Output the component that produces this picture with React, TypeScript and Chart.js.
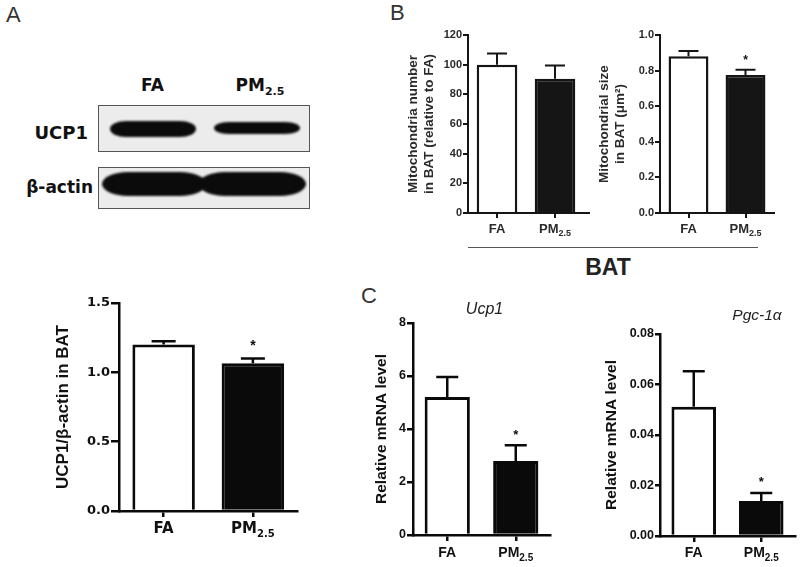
import React, { useEffect, useRef } from "react";
import { Chart, registerables } from "chart.js";

Chart.register(...registerables);

// ---------- data ----------
const groups = ["FA", "PM"];
const groupSubs = ["", "2.5"];

// A: UCP1 / beta-actin (western blot quantification)
const ucp1ProteinMean = [1.2, 1.065];
const ucp1ProteinSem = [0.025, 0.035];
const ucp1ProteinSig = [false, true];
const ucp1ProteinTicks = [0, 0.5, 1.0, 1.5];

// B: mitochondria number and size
const mitoNumberMean = [100, 90.5];
const mitoNumberSem = [7.5, 9];
const mitoNumberSig = [false, false];
const mitoNumberTicks = [0, 20, 40, 60, 80, 100, 120];

const mitoSizeMean = [0.88, 0.775];
const mitoSizeSem = [0.03, 0.03];
const mitoSizeSig = [false, true];
const mitoSizeTicks = [0, 0.2, 0.4, 0.6, 0.8, 1.0];

// C: relative mRNA
const ucp1MrnaMean = [5.21, 2.79];
const ucp1MrnaSem = [0.75, 0.6];
const ucp1MrnaSig = [false, true];
const ucp1MrnaTicks = [0, 2, 4, 6, 8];

const pgcMrnaMean = [0.0512, 0.0139];
const pgcMrnaSem = [0.014, 0.0031];
const pgcMrnaSig = [false, true];
const pgcMrnaTicks = [0, 0.02, 0.04, 0.06, 0.08];

const LIB = "'Liberation Sans', Arial, Helvetica, sans-serif";
const DEJ = "'DejaVu Sans', Verdana, sans-serif";

type Spec = {
  box: { left: number; top: number; width: number; height: number };
  area: { left: number; right: number; top: number; bottom: number };
  mean: number[];
  sem: number[];
  sig: boolean[];
  ticks: number[];
  dec: number;
  yTitle: string | string[];
  titleFamily: string;
  titleSize: number;
  titleLH: number;
  titleCenter: number;
  titleColor: string;
  tickFamily: string;
  tickSize: number;
  tickColor: string;
  tickLen: number;
  tickPad: number;
  axisW: number;
  barBorder: number;
  barPct: number;
  capW: number;
  errW: number;
  xFamily: string;
  xSize: number;
  xSubSize: number;
  xBaseline: number;
  subDrop: number;
  xTickLen: number;
  starSize: number;
  starGap: number;
  axisExtend: number;
  ink: string;
  textInk: string;
};

const base = {
  titleColor: "#111",
  tickColor: "#111",
  ink: "#0a0a0a",
  textInk: "#111",
  axisExtend: 0,
};

const specA: Spec = {
  ...base,
  box: { left: 40, top: 290, width: 270, height: 260 },
  area: { left: 119, right: 297.5, top: 303, bottom: 511 },
  mean: ucp1ProteinMean,
  sem: ucp1ProteinSem,
  sig: ucp1ProteinSig,
  ticks: ucp1ProteinTicks,
  dec: 1,
  yTitle: "UCP1/\u03b2-actin in BAT",
  titleFamily: LIB,
  titleSize: 17,
  titleLH: 20,
  titleCenter: 63,
  tickFamily: DEJ,
  tickSize: 13,
  tickLen: 8,
  tickPad: 1,
  axisW: 2.5,
  barBorder: 3,
  barPct: 0.7,
  capW: 24,
  errW: 2.5,
  xFamily: DEJ,
  xSize: 15,
  xSubSize: 10,
  xBaseline: 533,
  subDrop: 4,
  xTickLen: 6,
  starSize: 14,
  starGap: 8,
};

const specB1: Spec = {
  ...base,
  titleColor: "#2a2a2a",
  tickColor: "#2a2a2a",
  textInk: "#2a2a2a",
  ink: "#151515",
  box: { left: 400, top: 20, width: 190, height: 220 },
  area: { left: 468, right: 584, top: 35, bottom: 213 },
  mean: mitoNumberMean,
  sem: mitoNumberSem,
  sig: mitoNumberSig,
  ticks: mitoNumberTicks,
  dec: 0,
  yTitle: ["Mitochondria number", "in BAT (relative to FA)"],
  titleFamily: LIB,
  titleSize: 13.5,
  titleLH: 16,
  titleCenter: 413,
  tickFamily: LIB,
  tickSize: 11,
  tickLen: 5,
  tickPad: 1,
  axisW: 2,
  barBorder: 2.5,
  barPct: 0.7,
  capW: 20,
  errW: 2,
  xFamily: LIB,
  xSize: 13,
  xSubSize: 9,
  xBaseline: 233,
  subDrop: 3,
  xTickLen: 5,
  starSize: 12,
  starGap: 6,
  axisExtend: 9,
};

const specB2: Spec = {
  ...specB1,
  box: { left: 590, top: 20, width: 200, height: 220 },
  area: { left: 660, right: 774, top: 35, bottom: 213 },
  mean: mitoSizeMean,
  sem: mitoSizeSem,
  sig: mitoSizeSig,
  ticks: mitoSizeTicks,
  dec: 1,
  yTitle: ["Mitochondrial size", "in BAT (\u03bcm\u00b2)"],
  titleCenter: 604,
  axisExtend: 0,
};

const specC1: Spec = {
  ...base,
  box: { left: 360, top: 300, width: 200, height: 267 },
  area: { left: 413, right: 550, top: 323, bottom: 535 },
  mean: ucp1MrnaMean,
  sem: ucp1MrnaSem,
  sig: ucp1MrnaSig,
  ticks: ucp1MrnaTicks,
  dec: 0,
  yTitle: "Relative mRNA level",
  titleFamily: LIB,
  titleSize: 15.5,
  titleLH: 18,
  titleCenter: 381.5,
  tickFamily: LIB,
  tickSize: 12.5,
  tickLen: 6,
  tickPad: 1,
  axisW: 2.5,
  barBorder: 3,
  barPct: 0.66,
  capW: 22,
  errW: 2.5,
  xFamily: LIB,
  xSize: 14,
  xSubSize: 10,
  xBaseline: 557,
  subDrop: 4,
  xTickLen: 6,
  starSize: 13,
  starGap: 6,
};

const specC2: Spec = {
  ...specC1,
  box: { left: 580, top: 300, width: 220, height: 267 },
  area: { left: 660, right: 795, top: 334, bottom: 536 },
  mean: pgcMrnaMean,
  sem: pgcMrnaSem,
  sig: pgcMrnaSig,
  ticks: pgcMrnaTicks,
  dec: 2,
  titleCenter: 612,
  tickLen: 5,
  starGap: 7,
};

function BarPanel({ spec }: { spec: Spec }) {
  const ref = useRef<HTMLCanvasElement | null>(null);
  useEffect(() => {
    const s = spec;
    const canvas = ref.current!;
    const yWidth = s.area.left - s.box.left;
    const xHeight = s.box.top + s.box.height - s.area.bottom;
    const padTop = s.area.top - s.box.top;
    const padRight = s.box.left + s.box.width - s.area.right;
    const titlePadTop = s.titleCenter - s.box.left - s.titleLH / 2;

    const overlay = {
      id: "overlay",
      afterDatasetsDraw(chart: any) {
        const ctx = chart.ctx as CanvasRenderingContext2D;
        const xs = chart.scales.x;
        const ys = chart.scales.y;
        const meta = chart.getDatasetMeta(0);
        ctx.save();
        ctx.strokeStyle = s.ink;
        ctx.fillStyle = s.ink;
        ctx.lineWidth = s.errW;
        ctx.lineCap = "butt";
        s.mean.forEach((m, i) => {
          const cx = meta.data[i].x;
          const yBar = ys.getPixelForValue(m);
          const yTop = ys.getPixelForValue(m + s.sem[i]);
          ctx.beginPath();
          ctx.moveTo(cx, yBar);
          ctx.lineTo(cx, yTop);
          ctx.moveTo(cx - s.capW / 2, yTop);
          ctx.lineTo(cx + s.capW / 2, yTop);
          ctx.stroke();
          if (s.sig[i]) {
            ctx.font = `bold ${s.starSize}px ${LIB}`;
            ctx.textAlign = "center";
            ctx.textBaseline = "alphabetic";
            ctx.fillText("*", cx, yTop - s.starGap);
          }
        });
        // category labels with subscript
        ctx.fillStyle = s.textInk;
        ctx.textBaseline = "alphabetic";
        ctx.textAlign = "left";
        const by = s.xBaseline - s.box.top;
        groups.forEach((g, i) => {
          const cx = xs.getPixelForTick(i);
          ctx.font = `bold ${s.xSize}px ${s.xFamily}`;
          const w1 = ctx.measureText(g).width;
          ctx.font = `bold ${s.xSubSize}px ${s.xFamily}`;
          const w2 = groupSubs[i] ? ctx.measureText(groupSubs[i]).width : 0;
          const x0 = cx - (w1 + w2) / 2;
          ctx.font = `bold ${s.xSize}px ${s.xFamily}`;
          ctx.fillText(g, x0, by);
          if (groupSubs[i]) {
            ctx.font = `bold ${s.xSubSize}px ${s.xFamily}`;
            ctx.fillText(groupSubs[i], x0 + w1, by + s.subDrop);
          }
        });
        if (s.axisExtend > 0) {
          const ca = chart.chartArea;
          ctx.strokeStyle = s.ink;
          ctx.lineWidth = s.axisW;
          ctx.beginPath();
          ctx.moveTo(ca.right, xs.top);
          ctx.lineTo(ca.right + s.axisExtend, xs.top);
          ctx.stroke();
        }
        ctx.restore();
      },
    };

    const chart = new Chart(canvas, {
      type: "bar",
      data: {
        labels: groups.map((g, i) => g + groupSubs[i]),
        datasets: [
          {
            data: s.mean,
            backgroundColor: ["#ffffff", s.ink],
            borderColor: s.ink,
            borderWidth: s.barBorder,
            borderSkipped: "bottom",
            barPercentage: s.barPct,
            categoryPercentage: 1,
          },
        ],
      },
      options: {
        responsive: false,
        animation: false,
        devicePixelRatio: 1,
        events: [],
        layout: { padding: { top: padTop, right: padRight, left: 0, bottom: 0 } },
        plugins: { legend: { display: false }, tooltip: { enabled: false } },
        scales: {
          x: {
            type: "category",
            offset: true,
            grid: {
              display: true,
              offset: false,
              drawOnChartArea: false,
              drawTicks: true,
              tickLength: s.xTickLen,
              tickWidth: s.axisW,
              tickColor: s.ink,
              lineWidth: s.axisW,
              color: s.ink,
            },
            border: { display: true, color: s.ink, width: s.axisW },
            ticks: { display: false },
            afterFit: (sc: any) => {
              sc.height = xHeight;
            },
          },
          y: {
            type: "linear",
            min: s.ticks[0],
            max: s.ticks[s.ticks.length - 1],
            afterBuildTicks: (sc: any) => {
              sc.ticks = s.ticks.map((v) => ({ value: v }));
            },
            grid: {
              display: true,
              drawOnChartArea: false,
              drawTicks: true,
              tickLength: s.tickLen,
              tickWidth: s.axisW,
              tickColor: s.ink,
              lineWidth: s.axisW,
              color: s.ink,
            },
            border: { display: true, color: s.ink, width: s.axisW },
            ticks: {
              color: s.tickColor,
              padding: s.tickPad,
              font: { family: s.tickFamily, size: s.tickSize, weight: "bold" },
              callback: (v: any) => Number(v).toFixed(s.dec),
            },
            title: {
              display: true,
              text: s.yTitle,
              color: s.titleColor,
              padding: { top: titlePadTop, bottom: 0 },
              font: {
                family: s.titleFamily,
                size: s.titleSize,
                weight: "bold",
                lineHeight: s.titleLH / s.titleSize,
              },
            },
            afterFit: (sc: any) => {
              sc.width = yWidth;
            },
          },
        },
      },
      plugins: [overlay],
    } as any);
    return () => chart.destroy();
  }, [spec]);
  return (
    <canvas
      ref={ref}
      width={spec.box.width}
      height={spec.box.height}
      style={{
        position: "absolute",
        left: spec.box.left,
        top: spec.box.top,
        width: spec.box.width,
        height: spec.box.height,
      }}
    />
  );
}

type LabelProps = {
  x: number;
  baseline: number;
  size: number;
  family: string;
  weight?: number | string;
  italic?: boolean;
  align?: "left" | "center" | "right";
  color?: string;
  children: React.ReactNode;
};

function Label({ x, baseline, size, family, weight = 400, italic, align = "left", color = "#111", children }: LabelProps) {
  const shift = align === "center" ? "translateX(-50%)" : align === "right" ? "translateX(-100%)" : "none";
  return (
    <div
      style={{
        position: "absolute",
        left: x,
        top: baseline - 0.846 * size,
        fontSize: size,
        lineHeight: `${size}px`,
        fontFamily: family,
        fontWeight: weight as any,
        fontStyle: italic ? "italic" : "normal",
        color,
        whiteSpace: "nowrap",
        transform: shift,
      }}
    >
      {children}
    </div>
  );
}

function Band({ left, top, width, height, rx }: { left: number; top: number; width: number; height: number; rx: number }) {
  return (
    <div
      style={{
        position: "absolute",
        left,
        top,
        width,
        height,
        background: "#0b0b0b",
        borderRadius: `${rx}px / ${height / 2}px`,
        filter: "blur(1.1px)",
      }}
    />
  );
}

function Blot() {
  return (
    <>
      <div
        style={{
          position: "absolute",
          left: 98,
          top: 105,
          width: 212,
          height: 47,
          background: "#ececec",
          border: "1.5px solid #555",
          boxSizing: "border-box",
        }}
      />
      <div
        style={{
          position: "absolute",
          left: 98,
          top: 167,
          width: 212,
          height: 42,
          background: "#ececec",
          border: "1.5px solid #555",
          boxSizing: "border-box",
        }}
      />
      <Band left={110} top={121} width={86} height={16} rx={16} />
      <Band left={214} top={122} width={86} height={12} rx={14} />
      <Band left={102} top={172} width={104} height={24} rx={26} />
      <Band left={199} top={172} width={107} height={24} rx={26} />
      <Label x={152.5} baseline={91} size={17} family={DEJ} weight={700} align="center">
        FA
      </Label>
      <Label x={260} baseline={91} size={17} family={DEJ} weight={700} align="center">
        PM<span style={{ fontSize: 11, position: "relative", top: 4 }}>2.5</span>
      </Label>
      <Label x={88} baseline={139} size={18} family={DEJ} weight={700} align="right">
        UCP1
      </Label>
      <Label x={93} baseline={193} size={17} family={DEJ} weight={700} align="right">
        {"\u03b2-actin"}
      </Label>
    </>
  );
}

export default function App() {
  return (
    <div
      style={{
        position: "absolute",
        left: 0,
        top: 0,
        width: 800,
        height: 567,
        background: "#ffffff",
        overflow: "hidden",
      }}
    >
      <Label x={6} baseline={23} size={22} family={LIB} color="#333">
        A
      </Label>
      <Label x={390} baseline={21} size={22} family={LIB} color="#333">
        B
      </Label>
      <Label x={361} baseline={304} size={22} family={LIB} color="#333">
        C
      </Label>
      <Blot />
      <BarPanel spec={specA} />
      <BarPanel spec={specB1} />
      <BarPanel spec={specB2} />
      <div style={{ position: "absolute", left: 468, top: 246.5, width: 290, height: 1.5, background: "#555" }} />
      <Label x={608} baseline={275} size={23} family={LIB} weight={700} align="center" color="#222">
        BAT
      </Label>
      <BarPanel spec={specC1} />
      <BarPanel spec={specC2} />
      <Label x={484.5} baseline={315} size={16} family={LIB} italic align="center" color="#222">
        Ucp1
      </Label>
      <Label x={757} baseline={320} size={15.5} family={LIB} italic align="center" color="#222">
        {"Pgc-1\u03b1"}
      </Label>
    </div>
  );
}
